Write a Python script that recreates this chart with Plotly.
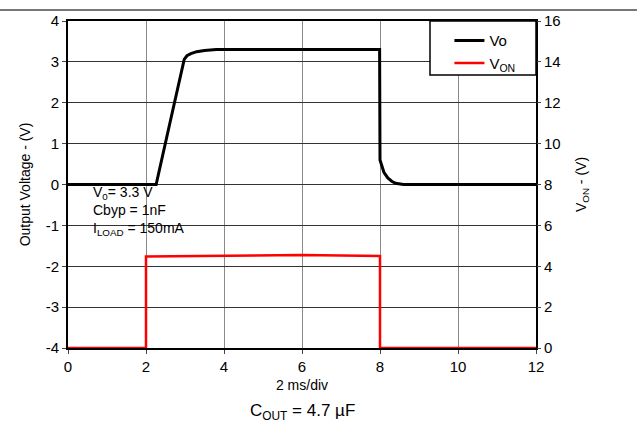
import plotly.graph_objects as go

# Data
vo_t = [0, 2.26, 2.6, 2.98, 3.05, 3.15, 3.3, 3.5, 3.8, 4.5, 6, 7.99, 8.0, 8.05, 8.1, 8.2, 8.3, 8.4, 8.5, 8.6, 12]
vo_v = [0, 0, 1.45, 3.06, 3.15, 3.2, 3.25, 3.28, 3.3, 3.3, 3.3, 3.3, 0.6, 0.42, 0.3, 0.16, 0.08, 0.03, 0.01, 0, 0]
von_t = [0, 2, 2, 4, 6, 7, 8, 8, 12]
von_v = [0, 0, 4.48, 4.5, 4.55, 4.52, 4.5, 0, 0]

x_ticks = [0, 2, 4, 6, 8, 10, 12]
y_ticks = [-4, -3, -2, -1, 0, 1, 2, 3, 4]
y_labels = ["-4", "-3", "-2", "-1", "0", "1", "2", "3", "4"]
y2_ticks = [0, 2, 4, 6, 8, 10, 12, 14, 16]

FONT = "Liberation Sans, Arial, sans-serif"

fig = go.Figure()
fig.add_trace(go.Scatter(x=vo_t, y=vo_v, mode="lines", name="Vo",
                         line=dict(color="black", width=3)))
fig.add_trace(go.Scatter(x=von_t, y=von_v, mode="lines", name="V<sub>ON</sub>",
                         line=dict(color="#ff0000", width=2.5), yaxis="y2"))

fig.update_layout(
    width=637, height=432,
    margin=dict(l=68, r=101, t=21, b=84),
    paper_bgcolor="white", plot_bgcolor="white",
    font=dict(family=FONT, size=14, color="black"),
    showlegend=True,
    legend=dict(x=0.815, y=0.99, xanchor="left", yanchor="top",
                borderwidth=0, bgcolor="rgba(0,0,0,0)",
                font=dict(size=15), tracegroupgap=0),
    xaxis=dict(range=[0, 12], tickvals=x_ticks, showgrid=True, gridcolor="#8a8a8a",
               gridwidth=1, zeroline=False, showline=True, linecolor="black",
               linewidth=2, mirror=True, ticks="outside", ticklen=4, automargin=False,
               tickfont=dict(size=15),
               title=dict(text="2 ms/div", font=dict(size=14), standoff=6)),
    yaxis=dict(range=[-4, 4], tickvals=y_ticks, ticktext=y_labels, showgrid=True,
               gridcolor="#333333", gridwidth=1, zeroline=False, showline=True,
               linecolor="black", linewidth=2, mirror=True, ticks="outside", ticklen=4,
               automargin=False, tickfont=dict(size=15),
               title=dict(text="Output Voltage - (V)", font=dict(size=14), standoff=12)),
    yaxis2=dict(range=[0, 16], tickvals=y2_ticks, overlaying="y", side="right",
                showgrid=False, zeroline=False, showline=False, automargin=False,
                ticks="outside", ticklen=4, tickfont=dict(size=15),
                title=dict(text="V<sub>ON</sub> - (V)", font=dict(size=14), standoff=16)),
)

fig.add_annotation(x=0.6, y=0.05, xref="x", yref="y", xanchor="left", yanchor="top",
                   align="left", showarrow=False, font=dict(size=14),
                   text="V<sub>0</sub>= 3.3 V<br>Cbyp = 1nF<br>I<sub>LOAD</sub> = 150mA")
fig.add_annotation(x=0.5, y=-0.196, xref="paper", yref="paper", xanchor="center", yanchor="middle",
                   showarrow=False, font=dict(size=17),
                   text="C<sub>OUT</sub> = 4.7 µF")
# legend frame
fig.add_shape(type="rect", xref="paper", yref="paper", x0=0.7735, x1=1.0, y0=0.835, y1=1.0,
              line=dict(color="black", width=1.5), fillcolor="white", layer="above")
# page rule at the top
fig.add_shape(type="line", xref="paper", yref="paper", x0=-0.2, x1=1.3, y0=1.034, y1=1.034,
              line=dict(color="#777777", width=2))

fig.write_html("out.html", config={"displayModeBar": False},
               post_script="document.body.style.margin='0';")
